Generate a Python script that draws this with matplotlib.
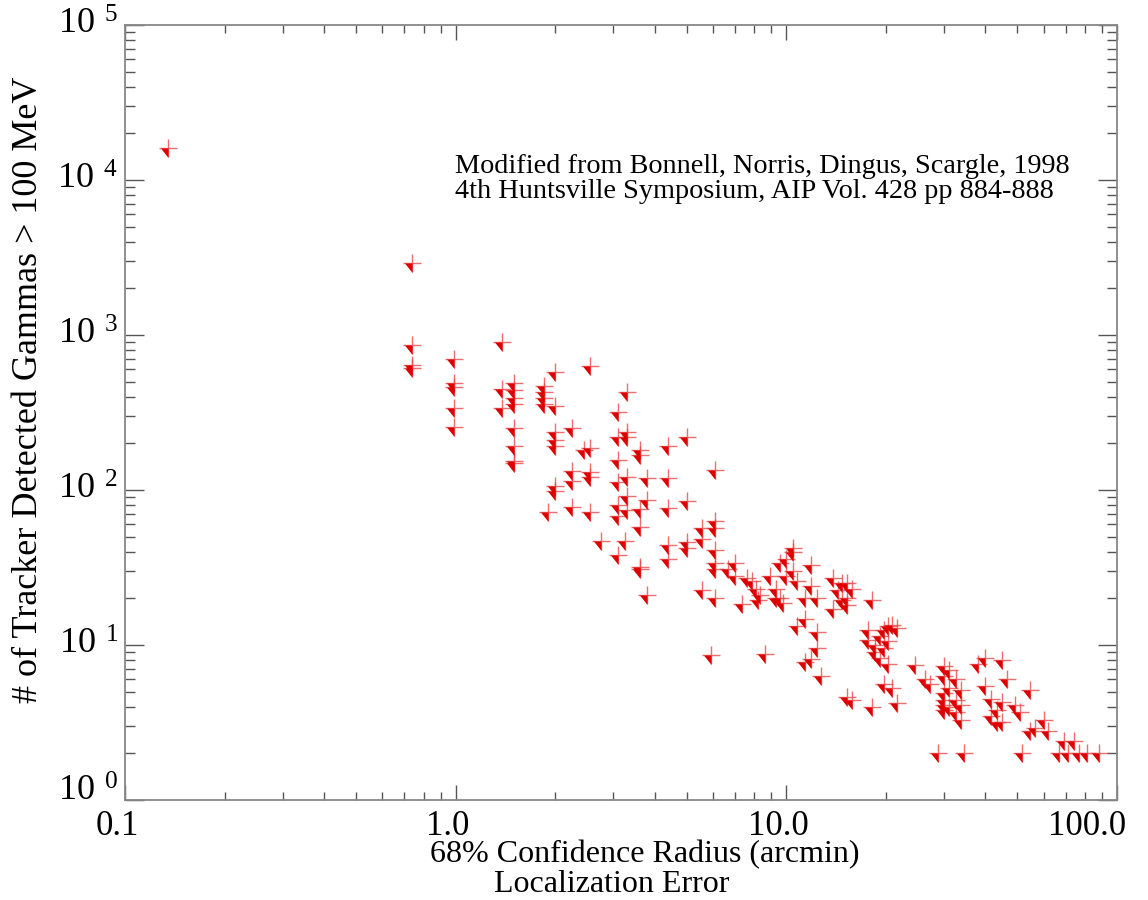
import numpy as np
import matplotlib
matplotlib.use("Agg")
import matplotlib.pyplot as plt
from matplotlib.ticker import FixedLocator, LogLocator, NullFormatter

plt.rcParams['font.family'] = ['Liberation Serif', 'DejaVu Serif']
plt.rcParams['mathtext.fontset'] = 'custom'
plt.rcParams['mathtext.rm'] = 'Liberation Serif'
plt.rcParams['mathtext.it'] = 'Liberation Serif'

# localization error radius (arcmin) and number of detected gammas
radius = [
    0.135,
    0.74, 0.74, 0.74, 0.74,
    0.99, 0.99, 0.99, 0.99, 0.99,
    1.38, 1.38, 1.38,
    1.5, 1.5, 1.5, 1.5, 1.5, 1.5, 1.5, 1.5,
    1.85, 1.85, 1.85, 1.85,
    2.0, 2.0, 2.0, 2.0, 2.0, 2.0, 2.0, 1.9,
    2.25, 2.25, 2.25, 2.25,
    2.55, 2.55, 2.55, 2.55, 2.55, 2.45, 2.75,
    3.1, 3.1, 3.1, 3.1, 3.1, 3.1, 3.1,
    3.3, 3.3, 3.3, 3.3, 3.3, 3.3, 3.25,
    3.6, 3.6, 3.6, 3.6, 3.6, 3.6,
    3.8, 3.8, 3.8,
    4.4, 4.4, 4.4, 4.4, 4.4,
    5.0, 5.0, 5.0, 5.0,
    5.55, 5.55, 5.55, 5.9,
    6.1, 6.1, 6.1, 6.1, 6.1, 6.1, 6.1,
    6.65, 7.0, 7.0, 7.35, 7.6, 8.1, 8.3, 7.9, 8.2,
    8.6, 8.9, 9.3, 9.3, 9.6, 9.6, 10.0, 10.0, 9.8,
    10.5, 10.5, 10.5, 10.8, 10.8, 11.4, 11.4, 11.4, 11.9, 11.9, 11.9,
    12.4, 12.4, 12.4, 12.7,
    13.8, 13.8, 14.3, 14.7, 14.7, 15.3, 15.3, 15.3, 15.8, 15.8, 15.3,
    17.7, 17.7, 18.2, 18.2, 18.5, 18.5, 19.2, 19.2, 19.8, 19.8, 19.8,
    20.3, 20.3, 20.3, 20.8, 20.8, 21.6, 21.6,
    24.5, 26.3, 27.2, 28.8,
    30.0, 30.0, 30.0, 30.0, 30.0, 30.0, 31.0, 31.0, 31.0,
    32.5, 32.5, 32.5, 33.7, 33.7, 33.7, 34.5,
    38.0, 40.0, 40.0, 41.7, 41.7, 43.4, 43.4, 45.0, 45.0, 45.0, 46.5,
    49.0, 51.0, 51.7,
    54.7, 54.7, 56.6, 60.0, 62.0, 67.0, 69.0, 71.0, 74.0, 77.0, 81.0, 88.0,
]
gammas = [
    16000,
    2900, 860, 640, 610,
    700, 490, 460, 340, 255,
    900, 450, 340,
    490, 440, 395, 360, 250, 193, 154, 150,
    470, 430, 395, 360,
    575, 350, 235, 210, 193, 106, 98, 72,
    250, 132, 114, 78,
    630, 186, 130, 122, 72, 180, 47,
    320, 220, 155, 112, 80, 68, 38,
    430, 238, 220, 122, 92, 74, 47,
    180, 168, 75, 58, 32, 31,
    120, 86, 21,
    193, 120, 76, 44, 36,
    220, 85, 46, 42,
    57, 48, 22.7, 8.6,
    135, 63, 57, 41, 34, 31, 20,
    31, 34, 28, 18.4, 27, 23, 21, 26, 19.5,
    8.8, 28, 23, 20, 34, 20, 36, 28, 18.6,
    40, 42, 30, 26, 13.2, 14.7, 20, 7.8, 33, 24, 8.1,
    12.1, 9.6, 20, 6.3,
    27, 17, 22.7, 25, 19.5, 25, 20, 18, 23, 4.4, 4.6,
    12.5, 10.8, 19.5, 4.0, 10, 9, 11.4, 8.2, 12.5, 9.6, 5.6,
    13.2, 10.6, 7.5, 13.5, 5.3, 4.2, 12.8,
    7.4, 6.0, 5.6, 2.0,
    7.3, 6.3, 4.9, 4.4, 4.1, 3.8, 6.9, 5.3, 4.0,
    6.0, 4.4, 3.7, 5.1, 4.1, 3.3, 2.0,
    7.5, 8.2, 5.4, 4.5, 3.5, 3.8, 3.2, 8.0, 4.3, 3.2, 6.0,
    4.1, 3.7, 2.0,
    5.1, 2.8, 2.9, 3.3, 2.8, 2.0, 2.4, 2.0, 2.4, 2.0, 2.0, 2.0,
]

x_ticks = [0.1, 1.0, 10.0, 100.0]
x_labels = ['0.1', '1.0', '10.0', '100.0']
y_ticks = [1, 10, 100, 1e3, 1e4, 1e5]
y_labels = [r'$10^{\ \,%d}$' % k for k in range(6)]

fig = plt.figure(figsize=(11.48, 9.0), dpi=100)
ax = fig.add_axes([125 / 1148, 100 / 900, 992 / 1148, 775 / 900])
ax.set_xscale('log')
ax.set_yscale('log')
ax.set_xlim(0.1, 100)
ax.set_ylim(1, 1e5)

# upper-limit style marker: cross with a filled triangle in the lower-left quadrant
tri = [(-0.8, 0.0), (0.0, 0.0), (0.0, -1.0), (-0.8, 0.0)]
ax.plot(radius, gammas, ls='none', marker='+', ms=12.5, mew=1.0, color='#e84a4a', alpha=0.8)
ax.plot(radius, gammas, ls='none', marker=tri, ms=13.5, mew=0, color='#dd0000')

grey = '#888888'
for s in ax.spines.values():
    s.set_color(grey)
    s.set_linewidth(1.3)

ax.xaxis.set_major_locator(FixedLocator(x_ticks))
ax.xaxis.set_major_formatter(NullFormatter())
ax.xaxis.set_minor_locator(LogLocator(base=10, subs=np.arange(2, 10)))
ax.xaxis.set_minor_formatter(NullFormatter())
ax.yaxis.set_major_locator(FixedLocator(y_ticks))
ax.yaxis.set_major_formatter(NullFormatter())
ax.yaxis.set_minor_locator(LogLocator(base=10, subs=np.arange(2, 10)))
ax.yaxis.set_minor_formatter(NullFormatter())

ax.tick_params(axis='both', which='both', direction='in', top=True, right=True,
               color='#555555', width=1.0)
ax.tick_params(axis='x', which='major', length=11)
ax.tick_params(axis='x', which='minor', length=6)
ax.tick_params(axis='y', which='major', length=14)
ax.tick_params(axis='y', which='minor', length=7)

# tick labels drawn by hand (IDL-like placement)
for xv, lab in zip(x_ticks, x_labels):
    dx = -30 if lab == '100.0' else -8
    ax.annotate(lab, xy=(xv, 0), xycoords=('data', 'axes fraction'),
                xytext=(dx, -10), textcoords='offset pixels',
                ha='center', va='top', fontsize=25)
for yv, lab in zip(y_ticks, y_labels):
    dy = 8 if yv == 1 else 0
    ax.annotate(lab, xy=(0, yv), xycoords=('axes fraction', 'data'),
                xytext=(-7, dy), textcoords='offset pixels',
                ha='right', va='center', fontsize=26)

ax.text(0.3327, 0.833, 'Modified from Bonnell, Norris, Dingus, Scargle, 1998\n'
        '4th Huntsville Symposium, AIP Vol. 428 pp 884-888',
        transform=ax.transAxes, fontsize=20.3, linespacing=1.0, va='top', ha='left')

fig.text(645 / 1148, 1 - 855 / 900, '68% Confidence Radius (arcmin)',
         fontsize=23, ha='center', va='center')
fig.text(612 / 1148, 1 - 884 / 900, 'Localization Error',
         fontsize=23, ha='center', va='center')
fig.text(29 / 1148, 1 - 390 / 900, '# of Tracker Detected Gammas > 100 MeV',
         fontsize=26, rotation=90, ha='center', va='center')

fig.savefig('out.png', dpi=100)
